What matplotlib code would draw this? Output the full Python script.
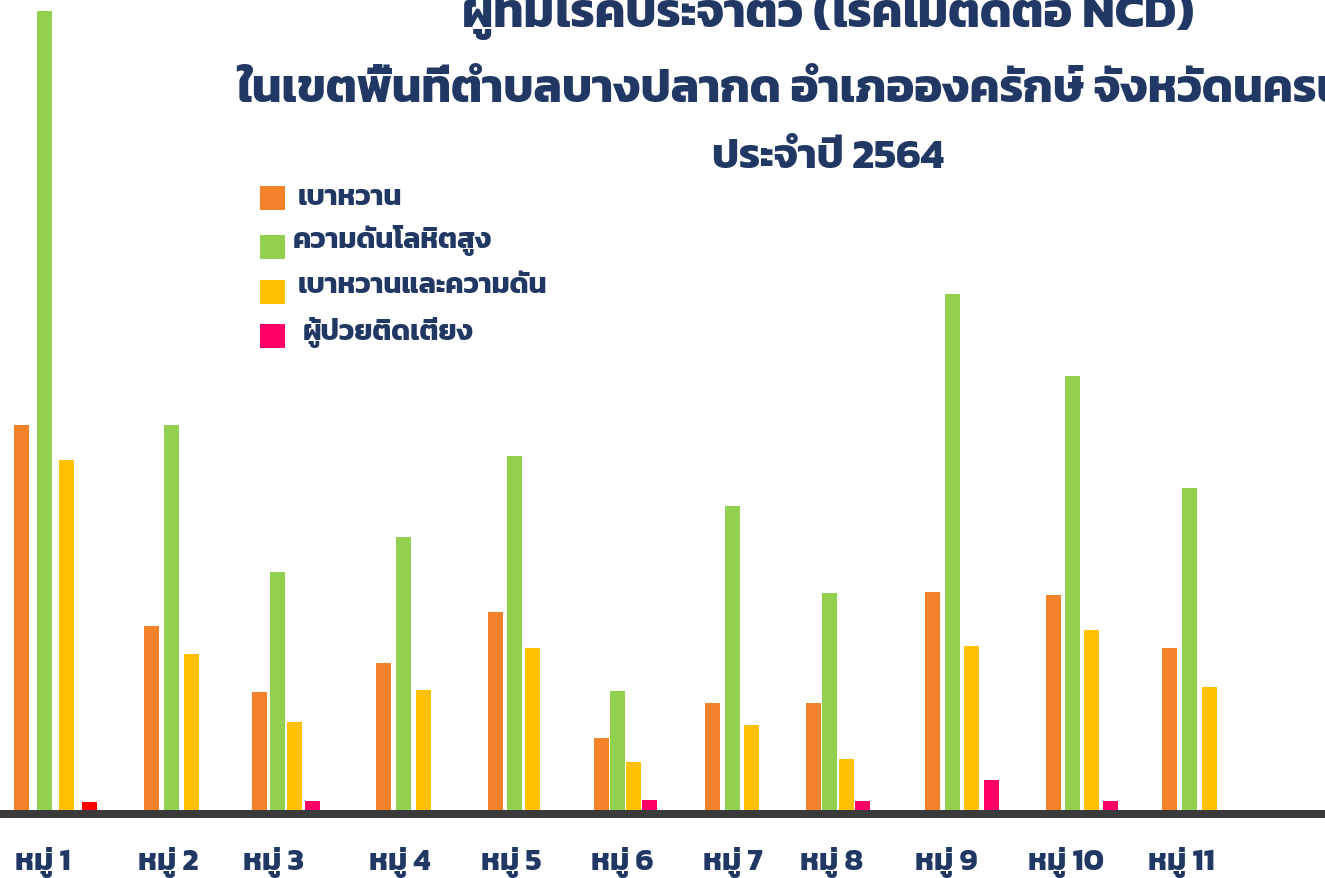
import matplotlib
matplotlib.use("Agg")
import matplotlib.pyplot as plt
from matplotlib.patches import Rectangle

# ข้อมูล (ค่าอ่านจากภาพ ไม่มีแกน y จึงใช้หน่วยความสูงแท่ง)
villages = ['หมู่ 1', 'หมู่ 2', 'หมู่ 3', 'หมู่ 4', 'หมู่ 5', 'หมู่ 6',
            'หมู่ 7', 'หมู่ 8', 'หมู่ 9', 'หมู่ 10', 'หมู่ 11']
series_names = ['เบาหวาน', 'ความดันโลหิตสูง', 'เบาหวานและความดัน', 'ผู้ป่วยติดเตียง']
diabetes = [385, 184, 118, 147, 198, 72, 107, 107, 218, 215, 162]
hypertension = [799, 385, 238, 273, 354, 119, 304, 217, 516, 434, 322]
both = [350, 156, 88, 120, 162, 48, 85, 51, 164, 180, 123]
bedridden = [8, 0, 9, 0, 0, 10, 0, 9, 30, 9, 0]

title1 = 'ผู้ที่มีโรคประจำตัว (โรคไม่ติดต่อ NCD)'
title2 = 'ในเขตพื้นที่ตำบลบางปลากด อำเภอองครักษ์ จังหวัดนครนายก'
title3 = 'ประจำปี 2564'

# สี
c_orange = '#F4822A'
c_green = '#92D050'
c_yellow = '#FFC000'
c_pink = '#FF0066'
c_red = '#FF0000'
c_text = '#213864'
c_base = '#3A3A3A'

# ตำแหน่ง (หน่วยพิกเซลของภาพ)
W, H = 1325, 879
group_left = [14, 144, 252, 376, 488, 594, 705, 806, 925, 1046, 1162]
group_step = [22.5, 20, 17.7, 20, 18.5, 16, 19.5, 16.3, 19.7, 19, 20]
tick_x = [43, 168, 273, 400, 511, 622, 733, 832, 946, 1066, 1181]
bar_w = 15

plt.rcParams['font.family'] = ['Kanit', 'Prompt', 'Bai Jamjuree', 'DejaVu Sans']
plt.rcParams['font.weight'] = 'bold'

fig = plt.figure(figsize=(W / 100, H / 100), dpi=100)
ax = fig.add_axes([0, (H - 819) / H, 1, 819 / H])
ax.set_xlim(0, W)
ax.set_ylim(-8, 811)


def fx(px):
    return px / W


def fy(py):
    return 1 - py / H


series = [diabetes, hypertension, both, bedridden]
colors = [c_orange, c_green, c_yellow, c_pink]
for s, vals in enumerate(series):
    xs = [group_left[i] + s * group_step[i] + bar_w / 2 for i in range(len(villages))]
    cols = [colors[s]] * len(villages)
    if s == 3:
        cols[0] = c_red  # หมู่ 1 สีแดง
    ax.bar(xs, vals, width=bar_w, color=cols, linewidth=0)

ax.axhspan(-8, 0, color=c_base, linewidth=0)

for sp in ax.spines.values():
    sp.set_visible(False)
ax.set_yticks([])
ax.set_xticks(tick_x)
ax.set_xticklabels(villages, color=c_text, fontweight='bold')
ax.tick_params(axis='x', length=0, pad=20)

renderer = fig.canvas.get_renderer()


def fit(t, target):
    # ปรับขนาดตัวอักษรให้ความกว้างเท่ากับภาพต้นฉบับ
    t.set_fontsize(20)
    w = t.get_window_extent(renderer).width
    t.set_fontsize(20 * target / w)
    return t.get_fontsize()


# หัวเรื่อง
t1 = fig.text(fx(828), fy(27), title1, ha='center', va='baseline',
              color=c_text, fontweight='bold')
size1 = fit(t1, 735)
fig.text(fx(237), fy(102), title2, ha='left', va='baseline',
         color=c_text, fontweight='bold', fontsize=size1 * 0.975)
t3 = fig.text(fx(828), fy(168), title3, ha='center', va='baseline',
              color=c_text, fontweight='bold')
fit(t3, 233)

# ขนาดป้ายแกน x
tmp = fig.text(0, 0, 'หมู่ 10', fontweight='bold')
lab_size = fit(tmp, 76)
tmp.remove()
for lab in ax.get_xticklabels():
    lab.set_fontsize(lab_size)

# คำอธิบายสัญลักษณ์
leg_box_y = [187, 236, 281, 325]
leg_text_x = [298, 293, 298, 303]
leg_text_y = [198, 241, 286, 333]
tmp = fig.text(0, 0, series_names[1], fontweight='bold')
leg_size = fit(tmp, 200)
tmp.remove()
for i, name in enumerate(series_names):
    fig.add_artist(Rectangle((fx(260), fy(leg_box_y[i] + 24)), 25 / W, 24 / H,
                             transform=fig.transFigure, color=colors[i], linewidth=0))
    fig.text(fx(leg_text_x[i]), fy(leg_text_y[i]), name, ha='left', va='center',
             color=c_text, fontweight='bold', fontsize=leg_size)

fig.savefig('out.png', dpi=100)
